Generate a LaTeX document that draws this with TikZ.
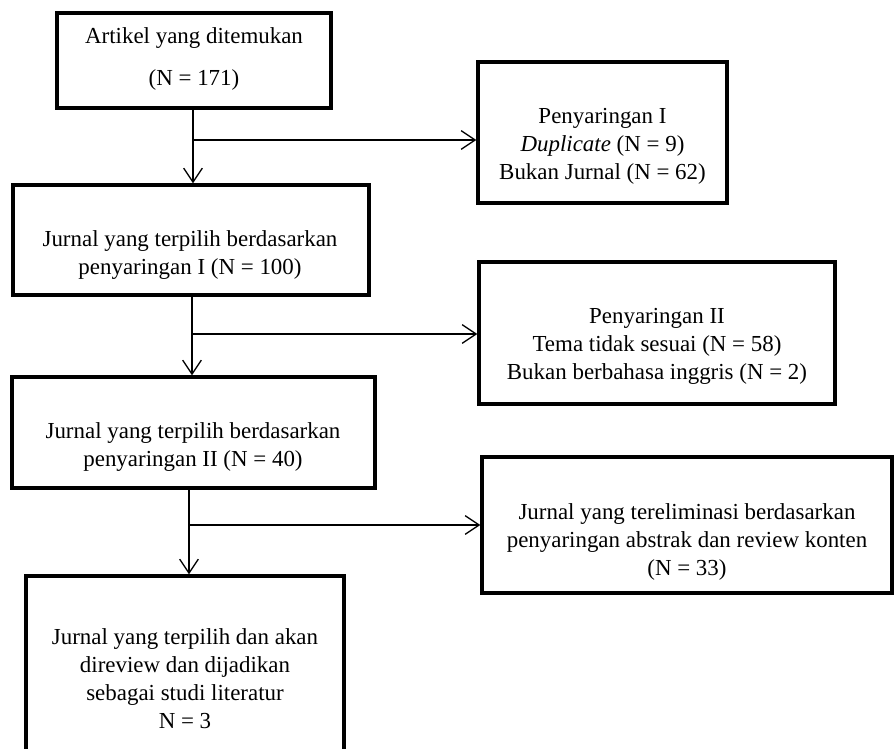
\documentclass[tikz,border=0pt]{standalone}
\usepackage{fontspec}
\setmainfont{Liberation Serif}
\usetikzlibrary{arrows.meta, calc}

\begin{document}
\begin{tikzpicture}
  [x=0.75pt,y=-0.75pt,
   basicbox/.style={draw,rectangle,line width=2.5pt,inner sep=0pt},
   boxtext/.style={align=center,inner sep=0pt,font=\fontsize{17.2}{21}\selectfont},
   flowarrow/.style={line width=1pt,-{Straight Barb[length=10.5pt,width=14pt,line width=1pt]}}]
  \clip (0,0) rectangle (894,749);
  \node (foundbox) at (194,60.5) [basicbox,minimum width=205.5pt,minimum height=71.25pt] {};
  \node (foundlabel) at (194,59) [boxtext,font=\fontsize{17.2}{31.5}\selectfont] {Artikel yang ditemukan\\(N = 171)};
  \node (screen1box) at (602.5,132.5) [basicbox,minimum width=186.75pt,minimum height=105.75pt] {};
  \node (screen1label) at (602.5,146) [boxtext] {Penyaringan I\\\textit{Duplicate} (N = 9)\\Bukan Jurnal (N = 62)};
  \node (chosen1box) at (191,240) [basicbox,minimum width=267pt,minimum height=82.5pt] {};
  \node (chosen1label) at (190,255.5) [boxtext] {Jurnal yang terpilih berdasarkan\\penyaringan I (N = 100)};
  \node (screen2box) at (657,333) [basicbox,minimum width=267pt,minimum height=106.5pt] {};
  \node (screen2label) at (657,346.5) [boxtext] {Penyaringan II\\Tema tidak sesuai (N = 58)\\Bukan berbahasa inggris (N = 2)};
  \node (chosen2box) at (193.5,432.5) [basicbox,minimum width=272.25pt,minimum height=83.25pt] {};
  \node (chosen2label) at (193,447.5) [boxtext] {Jurnal yang terpilih berdasarkan\\penyaringan II (N = 40)};
  \node (elimbox) at (687,525) [basicbox,minimum width=307.5pt,minimum height=102pt] {};
  \node (elimlabel) at (687,542) [boxtext] {Jurnal yang tereliminasi berdasarkan\\penyaringan abstrak dan review konten\\(N = 33)};
  \node (finalbox) at (185,668) [basicbox,minimum width=238.5pt,minimum height=138pt] {};
  \node (finallabel) at (185,678.5) [boxtext] {Jurnal yang terpilih dan akan\\direview dan dijadikan\\sebagai studi literatur\\N = 3};
  \coordinate (split1) at (193,140);
  \coordinate (split2) at (192,334);
  \coordinate (split3) at (189,525);
  \draw [flowarrow] (foundbox.south -| split1) -- (chosen1box.north -| split1);
  \draw [flowarrow] (split1) -- (split1 -| screen1box.west);
  \draw [flowarrow] (chosen1box.south -| split2) -- (chosen2box.north -| split2);
  \draw [flowarrow] (split2) -- (split2 -| screen2box.west);
  \draw [flowarrow] (chosen2box.south -| split3) -- (finalbox.north -| split3);
  \draw [flowarrow] (split3) -- (split3 -| elimbox.west);
\end{tikzpicture}
\end{document}
